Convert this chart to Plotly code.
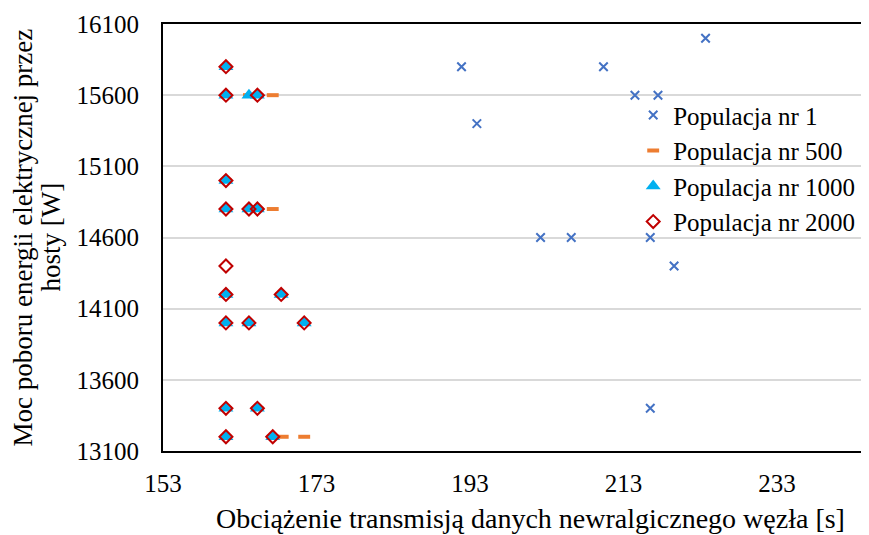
import plotly.graph_objects as go

# ---- data ----
pop1_x = [191.9, 193.9, 210.4, 214.5, 217.5, 223.7, 202.2, 206.2, 216.5, 219.6, 216.5]
pop1_y = [15800, 15400, 15800, 15600, 15600, 16000, 14600, 14600, 14600, 14400, 13400]

pop500_x = [161.2, 161.2, 164.2, 165.3, 167.3, 161.2, 161.2, 164.2, 165.3, 167.3,
            161.2, 168.4, 161.2, 164.2, 171.4, 161.2, 165.3, 161.2, 167.3, 168.6, 171.4]
pop500_y = [15800, 15600, 15600, 15600, 15600, 15000, 14800, 14800, 14800, 14800,
            14200, 14200, 14000, 14000, 14000, 13400, 13400, 13200, 13200, 13200, 13200]

pop1000_x = [161.2, 161.2, 164.2, 165.3, 161.2, 161.2, 164.2, 165.3,
             161.2, 168.4, 161.2, 164.2, 171.4, 161.2, 165.3, 161.2, 167.3]
pop1000_y = [15800, 15600, 15600, 15600, 15000, 14800, 14800, 14800,
             14200, 14200, 14000, 14000, 14000, 13400, 13400, 13200, 13200]

pop2000_x = [161.2, 161.2, 165.3, 161.2, 161.2, 164.2, 165.3, 161.2,
             161.2, 168.4, 161.2, 164.2, 171.4, 161.2, 165.3, 161.2, 167.3]
pop2000_y = [15800, 15600, 15600, 15000, 14800, 14800, 14800, 14400,
             14200, 14200, 14000, 14000, 14000, 13400, 13400, 13200, 13200]

x_range = [153, 245]
y_range = [13100, 16100]
x_tick0, x_dtick = 153, 20
y_dtick = 500

x_title = "Obciążenie transmisją danych newralgicznego węzła [s]"
y_title_lines = ["Moc poboru energii elektrycznej przez", "hosty [W]"]

FONT = "Liberation Serif"

fig = go.Figure()
fig.add_trace(go.Scatter(
    x=pop1_x, y=pop1_y, mode="markers", name="Populacja nr 1",
    marker=dict(symbol="x-thin", size=8.5, line=dict(width=2, color="#4472C4"), color="#4472C4")))
fig.add_trace(go.Scatter(
    x=pop500_x, y=pop500_y, mode="markers", name="Populacja nr 500",
    marker=dict(symbol="line-ew", size=8.5, line=dict(width=4, color="#ED7D31"), color="#ED7D31")))
fig.add_trace(go.Scatter(
    x=pop1000_x, y=pop1000_y, mode="markers", name="Populacja nr 1000",
    marker=dict(symbol="triangle-up", size=13, color="#00B0F0", line=dict(width=0))))
fig.add_trace(go.Scatter(
    x=pop2000_x, y=pop2000_y, mode="markers", name="Populacja nr 2000",
    marker=dict(symbol="diamond-open", size=10, color="#C00000", line=dict(width=2, color="#C00000"))))

annotations = [
    dict(text=x_title, xref="paper", yref="paper", x=0.5205, y=-0.159,
         xanchor="center", yanchor="middle", showarrow=False,
         font=dict(size=28, family=FONT)),
    dict(text=y_title_lines[0], xref="paper", yref="paper", x=0, y=0.5, xshift=-141,
         xanchor="center", yanchor="middle", textangle=-90, showarrow=False,
         font=dict(size=27, family=FONT)),
    dict(text=y_title_lines[1], xref="paper", yref="paper", x=0, y=0.5, xshift=-113,
         xanchor="center", yanchor="middle", textangle=-90, showarrow=False,
         font=dict(size=27, family=FONT)),
]

fig.update_layout(
    width=861, height=527,
    margin=dict(l=155, r=0, t=16, b=84, autoexpand=False),
    paper_bgcolor="white", plot_bgcolor="white",
    font=dict(family=FONT, size=25, color="black"),
    showlegend=True,
    legend=dict(x=0.666, y=0.84, xanchor="left", yanchor="top",
                bgcolor="rgba(0,0,0,0)", font=dict(size=25, family=FONT),
                itemwidth=30, tracegroupgap=0),
    xaxis=dict(range=x_range, tickmode="linear", tick0=x_tick0, dtick=x_dtick,
               tickformat="d",
               showgrid=False, zeroline=False, showline=True, linecolor="black",
               linewidth=2, mirror=True, ticks="", ticklabelstandoff=9,
               tickfont=dict(size=25, family=FONT)),
    yaxis=dict(range=y_range, tickmode="linear", tick0=y_range[0], dtick=y_dtick,
               tickformat="d",
               showgrid=True, gridcolor="#D9D9D9", gridwidth=2, zeroline=False,
               showline=True, linecolor="black", linewidth=2, ticks="", mirror=False,
               ticklabelstandoff=17, tickfont=dict(size=25, family=FONT)),
    annotations=annotations,
)

fig.write_html("out.html")
